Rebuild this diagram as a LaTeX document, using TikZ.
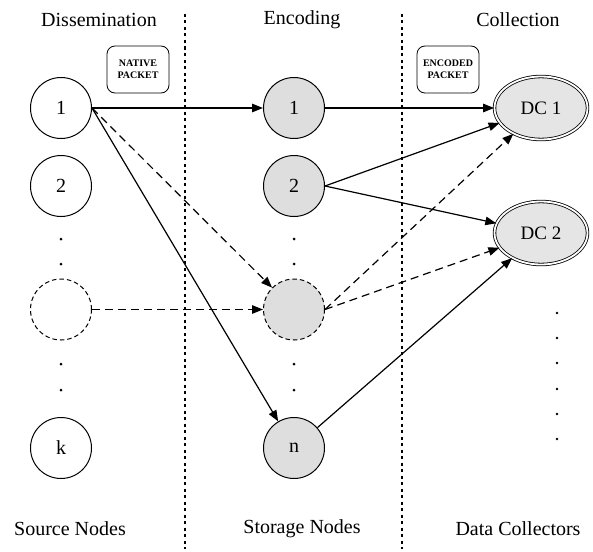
\documentclass[tikz,border=0pt]{standalone}
\usepackage{fontspec}
\setmainfont{Liberation Serif}
\usetikzlibrary{shapes.geometric,arrows.meta}
\definecolor{nodegray}{gray}{0.87}
\definecolor{dcgray}{gray}{0.9}
\begin{document}
\begin{tikzpicture}[x=1pt,y=-1pt,
  every node/.style={font=\fontsize{20}{24}\selectfont},
  src/.style={circle,draw,line width=1pt,minimum size=61pt,inner sep=0pt,font=\fontsize{20}{24}\selectfont},
  stor/.style={src,fill=nodegray},
  dashcirc/.style={dash pattern=on 4.5pt off 3pt},
  dc/.style={ellipse,draw,double,double distance=1.8pt,line width=0.8pt,fill=dcgray,minimum width=93pt,minimum height=63pt,inner sep=0pt,font=\fontsize{19}{22}\selectfont},
  pkt/.style={draw,rounded corners=8pt,line width=0.8pt,minimum width=62pt,minimum height=47pt,align=center,font=\fontsize{10}{12}\selectfont\bfseries},
  arr/.style={-{Triangle[length=11pt,width=8.5pt]},line width=1.2pt},
  darr/.style={arr,dash pattern=on 8pt off 5pt},
  divider/.style={line width=2.6pt,dash pattern=on 3pt off 3.5pt},
  vdot/.style={circle,fill,inner sep=0pt,minimum size=3pt}]
\useasboundingbox (0,0) rectangle (593,551);
% dividers
\coordinate (d1t) at (185,14); \coordinate (d1b) at (185,549);
\coordinate (d2t) at (402,14); \coordinate (d2b) at (402,549);
\draw[divider] (d1t) -- (d1b);
\draw[divider] (d2t) -- (d2b);
% headers
\node (h1) at (99,20) {Dissemination};
\node (h2) at (302,20) {Encoding};
\node (h3) at (518,20) {Collection};
\node (f1) at (70,529) {Source Nodes};
\node (f2) at (302,529) {Storage Nodes};
\node (f3) at (518,529) {Data Collectors};
% packets
\node[pkt] (np) at (138,69.5) {NATIVE\\PACKET};
\node[pkt] (ep) at (448,69.5) {ENCODED\\PACKET};
% source nodes
\node[src] (s1) at (61,108) {1};
\node[src] (s2) at (61,186) {2};
\node[src,dashcirc] (s3) at (61,309.5) {};
\node[src] (sk) at (61,448) {k};
% storage nodes
\node[stor] (t1) at (294,108) {1};
\node[stor] (t2) at (294,186) {2};
\node[stor,dashcirc] (t3) at (294,309.5) {};
\node[stor] (tn) at (294,448) {n};
% data collectors
\node[dc] (dc1) at (541,108) {DC 1};
\node[dc] (dc2) at (541,233) {DC 2};
% vertical dots
\foreach \y [count=\i] in {239,264,364,390} {
  \node[vdot] (sd\i) at (61,\y) {};
  \node[vdot] (td\i) at (294,\y) {};
}
\foreach \y [count=\i] in {313,338,363,389,414,439} {
  \node[vdot,minimum size=2.8pt] (cd\i) at (557,\y) {};
}
% edges
\draw[arr] (s1.east) -- (t1);
\draw[darr] (s1.east) -- (t3);
\draw[arr] (s1.east) -- (tn);
\draw[darr] (s3) -- (t3);
\draw[arr] (t1) -- (dc1);
\draw[arr] (t2.east) -- (dc1);
\draw[arr] (t2.east) -- (dc2);
\draw[darr] (t3.east) -- (dc1);
\draw[darr] (t3.east) -- (dc2);
\draw[arr] (tn) -- (dc2);
\end{tikzpicture}
\end{document}
